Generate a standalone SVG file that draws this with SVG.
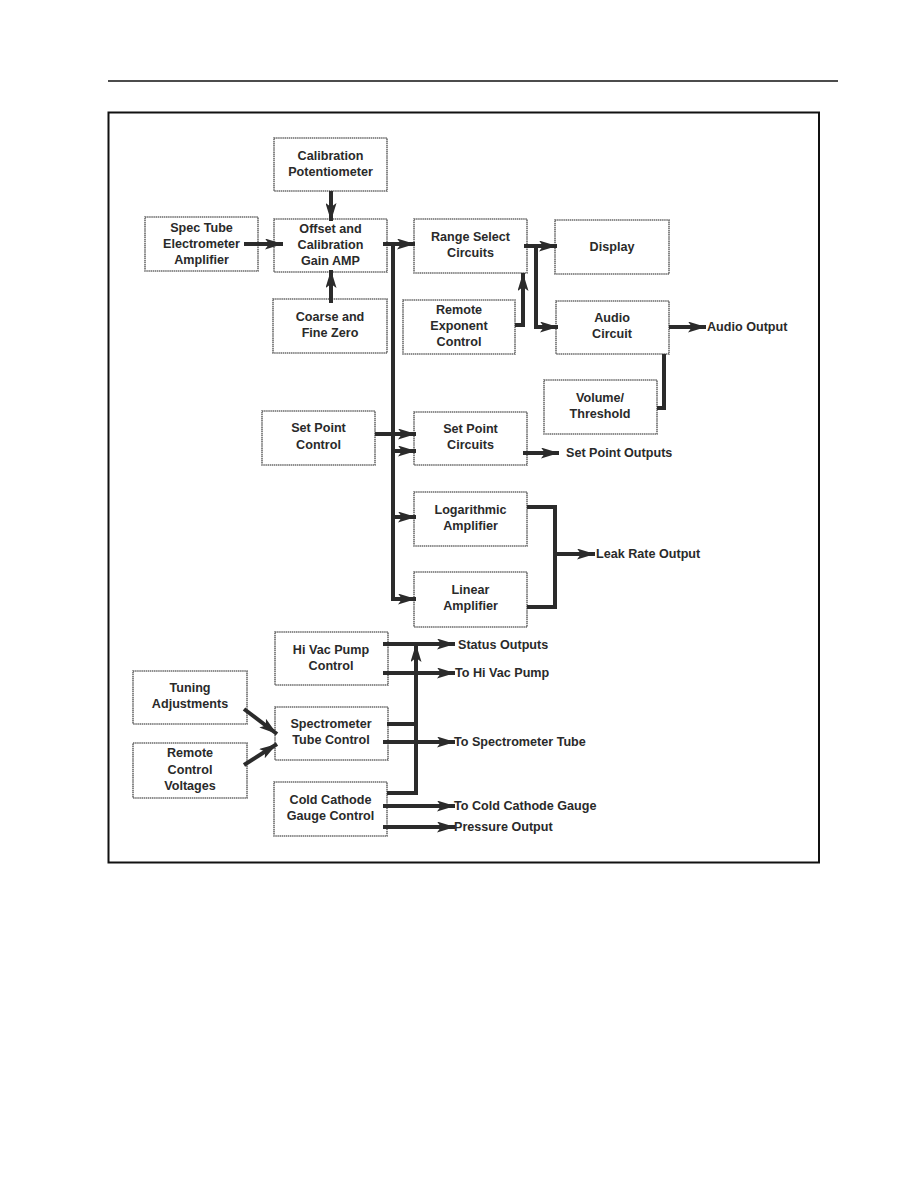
<svg xmlns="http://www.w3.org/2000/svg" width="918" height="1188" viewBox="0 0 918 1188">
<style>
.box{fill:#fff;stroke:#6a6a6a;stroke-width:1.6;stroke-dasharray:1.5 0.6}
.t{font-family:"Liberation Sans",Arial,sans-serif;font-weight:bold;font-size:12.6px;fill:#2a2a2a;text-anchor:middle}
.o{font-family:"Liberation Sans",Arial,sans-serif;font-weight:bold;font-size:12.6px;fill:#2a2a2a}
.c{fill:none;stroke:#2b2b2b;stroke-width:4}
.a{marker-end:url(#ah)}
</style>
<defs>
<marker id="ah" viewBox="0 0 18 11" refX="18" refY="5.5" markerWidth="18" markerHeight="11" markerUnits="userSpaceOnUse" orient="auto">
<path d="M0,0 L18,5.5 L0,11 L4,5.5 z" fill="#2b2b2b"/>
</marker>
</defs>
<rect width="918" height="1188" fill="#fff"/>
<line x1="108" y1="81" x2="838" y2="81" stroke="#111" stroke-width="1.5"/>
<rect x="108.5" y="112.5" width="710.5" height="750" fill="none" stroke="#111" stroke-width="2"/>

<g id="cal-pot"><rect class="box" x="274" y="138" width="113" height="53"/>
<text class="t" x="330.5" y="160">Calibration</text><text class="t" x="330.5" y="176">Potentiometer</text></g>
<g id="spec-tube"><rect class="box" x="145" y="217" width="113" height="54"/>
<text class="t" x="201.5" y="232">Spec Tube</text><text class="t" x="201.5" y="248">Electrometer</text><text class="t" x="201.5" y="264">Amplifier</text></g>
<g id="offset"><rect class="box" x="274" y="219" width="113" height="53"/>
<text class="t" x="330.5" y="233">Offset and</text><text class="t" x="330.5" y="249">Calibration</text><text class="t" x="330.5" y="265">Gain AMP</text></g>
<g id="coarse"><rect class="box" x="273" y="299" width="114" height="54"/>
<text class="t" x="330" y="321">Coarse and</text><text class="t" x="330" y="337">Fine Zero</text></g>
<g id="range"><rect class="box" x="414" y="219" width="113" height="54"/>
<text class="t" x="470.5" y="241">Range Select</text><text class="t" x="470.5" y="257">Circuits</text></g>
<g id="display"><rect class="box" x="555" y="220" width="114" height="54"/>
<text class="t" x="612" y="251">Display</text></g>
<g id="remote-exp"><rect class="box" x="403" y="300" width="112" height="54"/>
<text class="t" x="459" y="314">Remote</text><text class="t" x="459" y="330">Exponent</text><text class="t" x="459" y="346">Control</text></g>
<g id="audio"><rect class="box" x="556" y="301" width="113" height="53"/>
<text class="t" x="612" y="322">Audio</text><text class="t" x="612" y="338">Circuit</text></g>
<g id="volume"><rect class="box" x="544" y="380" width="113" height="54"/>
<text class="t" x="600" y="402">Volume/</text><text class="t" x="600" y="418">Threshold</text></g>
<g id="sp-control"><rect class="box" x="262" y="411" width="113" height="54"/>
<text class="t" x="318.5" y="432">Set Point</text><text class="t" x="318.5" y="449">Control</text></g>
<g id="sp-circuits"><rect class="box" x="414" y="412" width="113" height="53"/>
<text class="t" x="470.5" y="433">Set Point</text><text class="t" x="470.5" y="449">Circuits</text></g>
<g id="log-amp"><rect class="box" x="414" y="492" width="113" height="54"/>
<text class="t" x="470.5" y="514">Logarithmic</text><text class="t" x="470.5" y="530">Amplifier</text></g>
<g id="lin-amp"><rect class="box" x="414" y="572" width="113" height="55"/>
<text class="t" x="470.5" y="594">Linear</text><text class="t" x="470.5" y="610">Amplifier</text></g>
<g id="hivac"><rect class="box" x="275" y="632" width="113" height="53"/>
<text class="t" x="331" y="654">Hi Vac Pump</text><text class="t" x="331" y="670">Control</text></g>
<g id="tuning"><rect class="box" x="133" y="671" width="114" height="53"/>
<text class="t" x="190" y="692">Tuning</text><text class="t" x="190" y="708">Adjustments</text></g>
<g id="spectrometer"><rect class="box" x="275" y="707" width="113" height="53"/>
<text class="t" x="331" y="728">Spectrometer</text><text class="t" x="331" y="744">Tube Control</text></g>
<g id="remote-ctl"><rect class="box" x="133" y="743" width="114" height="55"/>
<text class="t" x="190" y="757">Remote</text><text class="t" x="190" y="774">Control</text><text class="t" x="190" y="790">Voltages</text></g>
<g id="cold-cathode"><rect class="box" x="274" y="782" width="113" height="54"/>
<text class="t" x="330.5" y="804">Cold Cathode</text><text class="t" x="330.5" y="820">Gauge Control</text></g>

<g id="connectors">
<path class="c a" d="M244,244 H283"/>
<path class="c a" d="M331,191 V221"/>
<path class="c a" d="M331,303 V270"/>
<path class="c a" d="M383,244 H415"/>
<path class="c a" d="M393,244 V599 H416"/>
<path class="c a" d="M375,434 H416"/>
<path class="c a" d="M393,451 H416"/>
<path class="c a" d="M393,517 H416"/>
<path class="c a" d="M524,246 H557"/>
<path class="c a" d="M536,246 V327 H558"/>
<path class="c a" d="M515,325 H523 V273"/>
<path class="c a" d="M669,327 H706"/>
<path class="c" d="M664,354 V408 H657"/>
<path class="c a" d="M523,453 H559"/>
<path class="c" d="M527,507 H555 V607 H527"/>
<path class="c a" d="M555,554 H595"/>
<path class="c a" d="M244,709 L277,734"/>
<path class="c a" d="M244,765 L277,744"/>
<path class="c a" d="M383,644 H455"/>
<path class="c a" d="M383,673 H455"/>
<path class="c" d="M387,724 H416"/>
<path class="c a" d="M383,742 H455"/>
<path class="c a" d="M387,793 H416 V644"/>
<path class="c a" d="M383,806 H455"/>
<path class="c a" d="M383,827 H455"/>
</g>

<g id="outputs">
<text class="o" x="707" y="331">Audio Output</text>
<text class="o" x="566" y="457">Set Point Outputs</text>
<text class="o" x="596" y="558">Leak Rate Output</text>
<text class="o" x="458" y="649">Status Outputs</text>
<text class="o" x="455" y="677">To Hi Vac Pump</text>
<text class="o" x="454" y="746">To Spectrometer Tube</text>
<text class="o" x="454" y="810">To Cold Cathode Gauge</text>
<text class="o" x="454" y="831">Pressure Output</text>
</g>
</svg>
